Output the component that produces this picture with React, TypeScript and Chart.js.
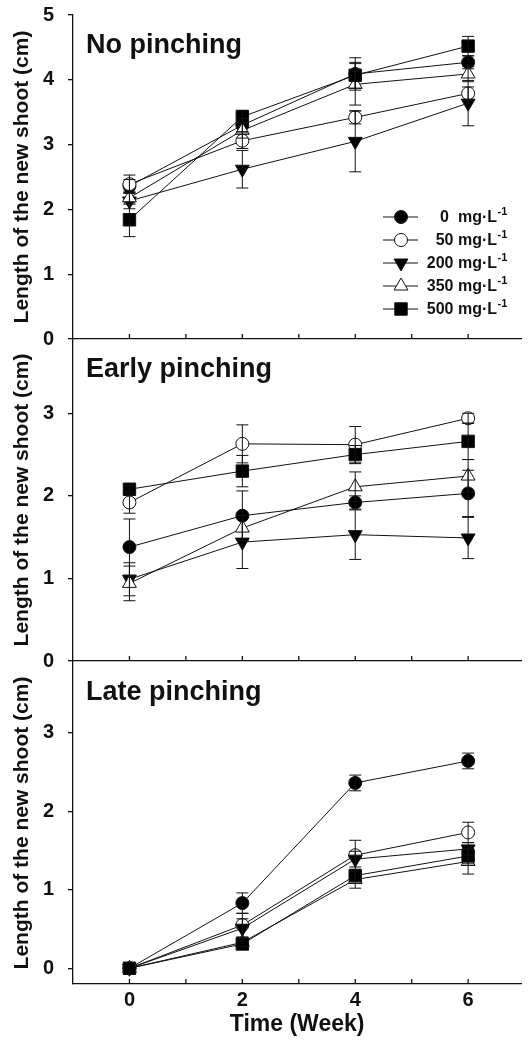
import React, { useEffect, useRef } from 'react';
import { Chart, registerables } from 'chart.js';
import { drawPoint } from 'chart.js/helpers';

Chart.register(...registerables);

// ---------- data ----------
const weeks = [0, 2, 4, 6];
const seriesLabels = ['0  mg·L', '50 mg·L', '200 mg·L', '350 mg·L', '500 mg·L'];
const unitSuperscript = '-1';
const xTickValues = [0, 1, 2, 3, 4, 5, 6];
const xTickLabels = ['0', '', '2', '', '4', '', '6'];
const yTicksTop = [0, 1, 2, 3, 4, 5];
const yTicksLower = [0, 1, 2, 3];
const panelTitles = ['No pinching', 'Early pinching', 'Late pinching'];

// No pinching
const noPinch0 = [2.36, 3.30, 4.09, 4.27];
const noPinch50 = [2.39, 3.06, 3.42, 3.79];
const noPinch200 = [2.13, 2.62, 3.05, 3.64];
const noPinch350 = [2.18, 3.22, 3.93, 4.09];
const noPinch500 = [1.84, 3.43, 4.07, 4.52];
const noPinch0Err = [0.10, 0.10, 0.25, 0.10];
const noPinch50Err = [0.14, 0.12, 0.10, 0.10];
const noPinch200Err = [0.12, 0.29, 0.47, 0.35];
const noPinch350Err = [0.10, 0.12, 0.32, 0.12];
const noPinch500Err = [0.26, 0.10, 0.20, 0.15];

// Early pinching
const early0 = [1.38, 1.76, 1.92, 2.03];
const early50 = [1.92, 2.63, 2.62, 2.94];
const early200 = [0.99, 1.44, 1.53, 1.49];
const early350 = [0.94, 1.61, 2.11, 2.24];
const early500 = [2.08, 2.30, 2.50, 2.66];
const early0Err = [0.34, 0.30, 0.08, 0.28];
const early50Err = [0.13, 0.23, 0.22, 0.06];
const early200Err = [0.20, 0.32, 0.30, 0.25];
const early350Err = [0.21, 0.15, 0.18, 0.20];
const early500Err = [0.05, 0.19, 0.11, 0.22];

// Late pinching
const late0 = [0, 0.83, 2.36, 2.64];
const late50 = [0, 0.55, 1.44, 1.73];
const late200 = [0, 0.51, 1.39, 1.52];
const late350 = [0, 0.33, 1.13, 1.36];
const late500 = [0, 0.31, 1.18, 1.43];
const late0Err = [0, 0.13, 0.10, 0.10];
const late50Err = [0, 0.15, 0.19, 0.13];
const late200Err = [0, 0.12, 0.10, 0.08];
const late350Err = [0, 0.05, 0.11, 0.16];
const late500Err = [0, 0.04, 0.08, 0.10];

// ---------- styling ----------
const INK = '#111';
const FONT = '"Liberation Sans", Arial, sans-serif';
Chart.defaults.font.family = FONT;

const MARKERS = [
  { style: 'circle', rotation: 0, fill: '#000', radius: 6.5 },
  { style: 'circle', rotation: 0, fill: '#fff', radius: 6.5 },
  { style: 'triangle', rotation: 180, fill: '#000', radius: 8 },
  { style: 'triangle', rotation: 0, fill: '#fff', radius: 8 },
  { style: 'rect', rotation: 0, fill: '#000', radius: 8.8 },
];

const errorBarPlugin = {
  id: 'errorBars',
  afterDatasetsDraw(chart: any) {
    const ctx = chart.ctx;
    const ys = chart.scales.y;
    ctx.save();
    ctx.strokeStyle = INK;
    ctx.lineWidth = 1;
    chart.data.datasets.forEach((ds: any, i: number) => {
      const meta = chart.getDatasetMeta(i);
      meta.data.forEach((pt: any, j: number) => {
        const e = ds.errors[j];
        if (!e) return;
        const v = ds.data[j].y;
        const yt = ys.getPixelForValue(v + e);
        const yb = ys.getPixelForValue(v - e);
        const x = pt.x;
        ctx.beginPath();
        ctx.moveTo(x, yt); ctx.lineTo(x, yb);
        ctx.moveTo(x - 6, yt); ctx.lineTo(x + 6, yt);
        ctx.moveTo(x - 6, yb); ctx.lineTo(x + 6, yb);
        ctx.stroke();
      });
    });
    ctx.restore();
  },
};

const innerXTicksPlugin = {
  id: 'innerXTicks',
  afterDraw(chart: any) {
    const ctx = chart.ctx;
    const xs = chart.scales.x;
    const b = chart.chartArea.bottom;
    ctx.save();
    ctx.strokeStyle = INK;
    ctx.lineWidth = 1.3;
    xTickValues.forEach((v) => {
      const x = xs.getPixelForValue(v);
      ctx.beginPath();
      ctx.moveTo(x, b);
      ctx.lineTo(x, b - 5);
      ctx.stroke();
    });
    ctx.restore();
  },
};

const panelTitlePlugin = {
  id: 'panelTitle',
  afterDraw(chart: any, _args: any, opts: any) {
    const ctx = chart.ctx;
    const a = chart.chartArea;
    ctx.save();
    ctx.fillStyle = INK;
    ctx.font = `bold 27px ${FONT}`;
    ctx.textAlign = 'left';
    ctx.textBaseline = 'alphabetic';
    ctx.fillText(opts.text, a.left + 13, a.top + 38);
    ctx.restore();
  },
};

const customLegendPlugin = {
  id: 'customLegend',
  afterDraw(chart: any, _args: any, opts: any) {
    if (!opts.show) return;
    const ctx = chart.ctx;
    ctx.save();
    const rowY0 = 217;
    const rowGap = 23;
    chart.data.datasets.forEach((ds: any, i: number) => {
      const y = rowY0 + i * rowGap;
      ctx.strokeStyle = INK;
      ctx.lineWidth = 1;
      ctx.beginPath();
      ctx.moveTo(383, y);
      ctx.lineTo(418, y);
      ctx.stroke();
      const m = MARKERS[i];
      ctx.fillStyle = m.fill;
      ctx.strokeStyle = INK;
      ctx.lineWidth = 1;
      drawPoint(ctx, { pointStyle: m.style, rotation: m.rotation, radius: m.radius, borderWidth: 1 } as any, 401, y);
      ctx.fillStyle = INK;
      ctx.font = `bold 16px ${FONT}`;
      ctx.textAlign = 'right';
      ctx.textBaseline = 'middle';
      ctx.fillText(ds.label, 497, y + 1);
      ctx.font = `bold 11px ${FONT}`;
      ctx.textAlign = 'left';
      ctx.fillText(unitSuperscript, 497.5, y - 5);
    });
    ctx.restore();
  },
};

type PanelProps = {
  top: number;
  height: number;
  padTop: number;
  xAxisHeight: number;
  yMin: number;
  yMax: number;
  yTicks: number[];
  title: string;
  series: number[][];
  errors: number[][];
  showXLabels: boolean;
  showLegend: boolean;
};

function Panel(p: PanelProps) {
  const ref = useRef<HTMLCanvasElement>(null);
  useEffect(() => {
    const canvas = ref.current!;
    const datasets = p.series.map((vals, i) => ({
      label: seriesLabels[i],
      data: weeks.map((w, j) => ({ x: w, y: vals[j] })),
      errors: p.errors[i],
      borderColor: INK,
      borderWidth: 1,
      pointStyle: MARKERS[i].style,
      pointRotation: MARKERS[i].rotation,
      pointRadius: MARKERS[i].radius,
      pointBackgroundColor: MARKERS[i].fill,
      pointBorderColor: INK,
      pointBorderWidth: 1,
      tension: 0,
      fill: false,
      order: 4 - i,
    }));
    const chart = new Chart(canvas, {
      type: 'line',
      data: { datasets } as any,
      options: {
        animation: false,
        responsive: false,
        layout: { padding: { top: p.padTop, left: 0, right: 0, bottom: 0 } },
        plugins: {
          legend: { display: false },
          tooltip: { enabled: false },
          panelTitle: { text: p.title },
          customLegend: { show: p.showLegend },
        } as any,
        scales: {
          x: {
            type: 'linear',
            min: -1,
            max: 6.94,
            afterBuildTicks: (s: any) => {
              s.ticks = xTickValues.map((v) => ({ value: v }));
            },
            afterFit: (s: any) => {
              s.height = p.xAxisHeight;
              s.paddingLeft = 0;
              s.paddingRight = 0;
            },
            grid: { display: false, drawTicks: false },
            border: { display: true, color: INK, width: 1.3 },
            ticks: {
              display: p.showXLabels,
              padding: 4,
              color: INK,
              maxRotation: 0,
              autoSkip: false,
              font: { size: 20, weight: 'bold' },
              callback: (_v: any, idx: number) => xTickLabels[idx],
            },
            title: {
              display: p.showXLabels,
              text: 'Time (Week)',
              color: INK,
              font: { size: 23, weight: 'bold' },
              padding: { top: 0, bottom: 2 },
            },
          },
          y: {
            type: 'linear',
            min: p.yMin,
            max: p.yMax,
            afterBuildTicks: (s: any) => {
              s.ticks = p.yTicks.map((v) => ({ value: v }));
            },
            afterFit: (s: any) => {
              s.width = 73;
              s.paddingTop = 0;
              s.paddingBottom = 0;
            },
            grid: { drawOnChartArea: false, drawTicks: true, tickLength: 5, color: INK, lineWidth: 1.3 },
            border: { display: true, color: INK, width: 1.3 },
            ticks: { padding: 14, color: INK, font: { size: 20, weight: 'bold' } },
            title: {
              display: true,
              text: 'Length of the new shoot (cm)',
              color: INK,
              font: { size: 21, weight: 'bold' },
              padding: { top: 10, bottom: 0 },
            },
          },
        } as any,
      },
      plugins: [errorBarPlugin, innerXTicksPlugin, panelTitlePlugin, customLegendPlugin] as any,
    });
    return () => chart.destroy();
  }, []);
  return (
    <canvas
      ref={ref}
      width={531}
      height={p.height}
      style={{ position: 'absolute', left: 0, top: p.top, width: 531, height: p.height }}
    />
  );
}

export default function App() {
  return (
    <div style={{ position: 'absolute', left: 0, top: 0, width: 531, height: 1040, background: '#fff', overflow: 'hidden' }}>
      <Panel
        top={0}
        height={351}
        padTop={15}
        xAxisHeight={12}
        yMin={0}
        yMax={5}
        yTicks={yTicksTop}
        title={panelTitles[0]}
        series={[noPinch0, noPinch50, noPinch200, noPinch350, noPinch500]}
        errors={[noPinch0Err, noPinch50Err, noPinch200Err, noPinch350Err, noPinch500Err]}
        showXLabels={false}
        showLegend={true}
      />
      <Panel
        top={327}
        height={346}
        padTop={12}
        xAxisHeight={12}
        yMin={0}
        yMax={3.9}
        yTicks={yTicksLower}
        title={panelTitles[1]}
        series={[early0, early50, early200, early350, early500]}
        errors={[early0Err, early50Err, early200Err, early350Err, early500Err]}
        showXLabels={false}
        showLegend={false}
      />
      <Panel
        top={650}
        height={390}
        padTop={12}
        xAxisHeight={56}
        yMin={-0.2}
        yMax={3.9}
        yTicks={yTicksLower}
        title={panelTitles[2]}
        series={[late0, late50, late200, late350, late500]}
        errors={[late0Err, late50Err, late200Err, late350Err, late500Err]}
        showXLabels={true}
        showLegend={false}
      />
    </div>
  );
}
